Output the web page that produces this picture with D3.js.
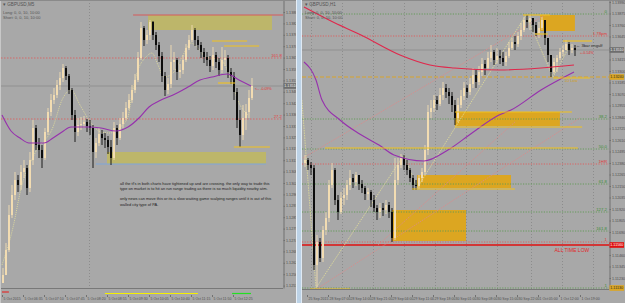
<!DOCTYPE html>
<html>
<head>
<meta charset="utf-8">
<script src="https://cdn.jsdelivr.net/npm/d3@7"></script>
<style>
  body { margin: 0; background: #a8a8a8; }
  svg { display: block; font-family: "Liberation Sans", Arial, sans-serif; }
</style>
</head>
<body>
<svg id="chart" width="625" height="303"></svg>
<script>
// ---------- left chart (M5) ----------
const leftTitle = ["\u25BE GBPUSD,M5", "Long: 0, 0, 10, 10:00", "Short: 0, 0, 10, 10:00"];
const leftFirstOpen = 1.12525;
const leftClose = [1.12565,1.12690,1.12865,1.12965,1.13040,1.13015,1.13080,1.13100,1.13000,1.13140,
  1.13300,1.13215,1.13190,1.13150,1.13280,1.13380,1.13440,1.13465,1.13515,1.13550,
  1.13600,1.13560,1.13490,1.13365,1.13280,1.13315,1.13320,1.13330,1.13310,1.13300,
  1.13180,1.13225,1.13270,1.13250,1.13240,1.13205,1.13150,1.13300,1.13250,1.13320,
  1.13350,1.13400,1.13440,1.13490,1.13540,1.13650,1.13800,1.13740,1.13765,1.13830,
  1.13765,1.13715,1.13660,1.13560,1.13490,1.13520,1.13630,1.13640,1.13580,1.13590,
  1.13640,1.13700,1.13740,1.13790,1.13740,1.13715,1.13680,1.13655,1.13640,1.13610,
  1.13665,1.13630,1.13590,1.13640,1.13650,1.13580,1.13560,1.13480,1.13340,1.13265,
  1.13350,1.13380,1.13450,1.13510];
const leftHigh = [1.12600,1.12725,1.12915,1.13015,1.13080,1.13065,1.13115,1.13140,1.13115,1.13180,
  1.13340,1.13315,1.13250,1.13215,1.13300,1.13400,1.13470,1.13500,1.13540,1.13580,
  1.13620,1.13610,1.13570,1.13500,1.13390,1.13350,1.13355,1.13360,1.13345,1.13340,
  1.13315,1.13250,1.13300,1.13290,1.13275,1.13260,1.13240,1.13330,1.13315,1.13350,
  1.13380,1.13430,1.13470,1.13515,1.13570,1.13680,1.13830,1.13810,1.13790,1.13840,
  1.13835,1.13780,1.13730,1.13680,1.13580,1.13550,1.13715,1.13680,1.13650,1.13620,
  1.13665,1.13720,1.13765,1.13815,1.13800,1.13760,1.13730,1.13700,1.13680,1.13660,
  1.13705,1.13680,1.13650,1.13705,1.13690,1.13665,1.13600,1.13580,1.13500,1.13390,
  1.13415,1.13420,1.13490,1.13550];
const leftLow = [1.12525,1.12565,1.12680,1.12850,1.12940,1.12980,1.12990,1.13050,1.12965,1.12980,
  1.13115,1.13190,1.13150,1.13100,1.13140,1.13265,1.13360,1.13420,1.13450,1.13490,
  1.13530,1.13540,1.13470,1.13340,1.13230,1.13260,1.13290,1.13300,1.13280,1.13265,
  1.13100,1.13150,1.13210,1.13215,1.13200,1.13170,1.13115,1.13140,1.13215,1.13240,
  1.13300,1.13340,1.13390,1.13425,1.13475,1.13530,1.13640,1.13710,1.13720,1.13740,
  1.13740,1.13690,1.13630,1.13530,1.13460,1.13470,1.13500,1.13590,1.13540,1.13550,
  1.13570,1.13630,1.13690,1.13730,1.13710,1.13690,1.13650,1.13625,1.13610,1.13580,
  1.13590,1.13600,1.13560,1.13575,1.13610,1.13550,1.13520,1.13440,1.13300,1.13205,
  1.13240,1.13290,1.13350,1.13440];
// slow MA (purple) and fast MA (pale dotted), sampled at bar index
const leftSlowIdx = [0,3,6,9,14,17,20,23,29,33,38,42,46,49,53,57,62,66,70,75,79,83];
const leftSlowVal = [1.13365,1.13285,1.13250,1.13225,1.13225,1.13250,1.13280,1.13305,1.13305,1.13300,1.13285,
  1.13305,1.13355,1.13405,1.13440,1.13465,1.13505,1.13540,1.13555,1.13570,1.13540,1.13510];
const leftFastIdx = [0,4,6,11,17,20,23,26,29,33,36,39,42,43,45,48,50,52,54,57,60,63,65,68,73,76,79,82];
const leftFastVal = [1.12615,1.12825,1.12975,1.13175,1.13305,1.13440,1.13490,1.13415,1.13340,1.13280,
  1.13275,1.13300,1.13355,1.13440,1.13575,1.13655,1.13675,1.13615,1.13555,1.13575,
  1.13655,1.13725,1.13705,1.13655,1.13640,1.13555,1.13425,1.13365];
const leftFibLevels = [1.13650, 1.13345];
const leftFibLabels = ["161.8", "27.2"];
const leftTopLine = [43.7, 1.13865];
const leftZones = [[48.7, 90, 1.13865, 1.13790], [35, 88, 1.13180, 1.13120]];
const leftBlueLine = [31.3, 88, 1.13120];
const leftMarks = [[70, 81.7, 1.13735], [74, 85.7, 1.13710], [72, 77.7, 1.13525], [77.3, 89.3, 1.13205]];
const leftSessions = [[0, 2.3], [34.3, 65.3], [76.7, 83]];
const leftGridIdx = [29];
const leftPriceTicks = [1.13880,1.13823,1.13766,1.13709,1.13652,1.13595,1.13538,1.13481,1.13424,1.13367,
  1.13310,1.13253,1.13196,1.13139,1.13082,1.13025,1.12968,1.12911,1.12854,1.12797,1.12740,1.12683,
  1.12626,1.12569,1.12512];
const leftTimeIdx = [0,7,14,21,28,35,42,49,56,63,70,77];
const leftTimeLabels = ["5 Oct 2015","5 Oct 06:35","5 Oct 07:10","5 Oct 07:45","5 Oct 08:20","5 Oct 08:55",
  "5 Oct 09:30","5 Oct 10:05","5 Oct 10:40","5 Oct 11:15","5 Oct 11:50","5 Oct 12:25"];
const leftNote = [
  "all the tf's in both charts have tightened up and are crossing. the only way to trade this",
  "type on market is to hit an run range trading as there is so much liquidity nearby atm.",
  "",
  "only news can move this or its a slow waiting game scalping ranges until it is out of this",
  "walled city type of PA."
];

// ---------- right chart (H1) ----------
const rightTitle = ["\u25BE GBPUSD,H1", "Long: 0, 0, 10, 10:00", "Short: 0, 0, 10, 10:00"];
const rightFirstOpen = 1.12380;
const rightClose = [1.12410,1.12360,1.12330,1.11360,1.11590,1.11430,1.11710,1.11830,1.12160,1.12310,
  1.12010,1.11890,1.12030,1.12060,1.12160,1.12230,1.12190,1.12260,1.12170,1.12130,
  1.12070,1.12090,1.12010,1.11930,1.11890,1.11930,1.11910,1.11960,1.11890,1.11630,
  1.12210,1.12360,1.12430,1.12360,1.12310,1.12230,1.12160,1.12150,1.12230,1.12290,
  1.12510,1.12890,1.12930,1.13010,1.12970,1.13060,1.13130,1.13090,1.13050,1.12960,
  1.12830,1.12960,1.13050,1.13130,1.13090,1.13170,1.13260,1.13190,1.13290,1.13370,
  1.13330,1.13430,1.13490,1.13410,1.13450,1.13430,1.13390,1.13450,1.13530,1.13590,
  1.13570,1.13650,1.13710,1.13810,1.13790,1.13830,1.13760,1.13680,1.13730,1.13810,
  1.13630,1.13460,1.13290,1.13390,1.13430,1.13490,1.13510,1.13570,1.13510,1.13530,
  1.13510];
const rightHigh = [1.12460,1.12430,1.12390,1.12360,1.11660,1.11630,1.11750,1.11890,1.12210,1.12380,
  1.12330,1.12060,1.12090,1.12130,1.12210,1.12310,1.12270,1.12290,1.12250,1.12210,
  1.12150,1.12130,1.12110,1.12060,1.11960,1.11980,1.11980,1.12010,1.11990,1.11930,
  1.12430,1.12430,1.12470,1.12460,1.12410,1.12330,1.12260,1.12210,1.12260,1.12330,
  1.12560,1.12960,1.13010,1.13060,1.13050,1.13130,1.13190,1.13170,1.13130,1.13090,
  1.13010,1.13030,1.13110,1.13190,1.13160,1.13230,1.13330,1.13310,1.13350,1.13430,
  1.13410,1.13490,1.13560,1.13510,1.13530,1.13510,1.13490,1.13490,1.13590,1.13630,
  1.13650,1.13690,1.13780,1.13840,1.13860,1.13860,1.13830,1.13790,1.13790,1.13840,
  1.13790,1.13630,1.13460,1.13430,1.13460,1.13530,1.13560,1.13610,1.13590,1.13570,
  1.13560];
const rightLow = [1.12340,1.12310,1.12260,1.11310,1.11140,1.11390,1.11390,1.11660,1.11790,1.12130,
  1.11960,1.11810,1.11870,1.11960,1.12010,1.12110,1.12130,1.12150,1.12110,1.12080,
  1.12010,1.12010,1.11940,1.11890,1.11810,1.11830,1.11850,1.11870,1.11830,1.11590,
  1.11610,1.12160,1.12330,1.12310,1.12260,1.12190,1.12110,1.12110,1.12120,1.12190,
  1.12260,1.12460,1.12830,1.12890,1.12910,1.12950,1.13010,1.13030,1.12970,1.12890,
  1.12760,1.12790,1.12930,1.13010,1.13030,1.13060,1.13130,1.13130,1.13160,1.13250,
  1.13260,1.13310,1.13390,1.13360,1.13370,1.13370,1.13350,1.13350,1.13430,1.13510,
  1.13510,1.13540,1.13610,1.13690,1.13730,1.13710,1.13690,1.13650,1.13630,1.13710,
  1.13560,1.13390,1.13240,1.13270,1.13290,1.13410,1.13450,1.13510,1.13460,1.13480,
  1.13450];
const rightRedIdx = [0,9,19,32,42,50,65,79,90];
const rightRedVal = [1.13940,1.13800,1.13660,1.13460,1.13360,1.13330,1.13310,1.13330,1.13360];
const rightPurpleIdx = [0,4,6,12,18,25,30,40,48,56,65,69,79,90];
const rightPurpleVal = [1.13390,1.13210,1.13010,1.12810,1.12680,1.12560,1.12460,1.12400,1.12510,1.12680,
  1.12860,1.12910,1.13110,1.13290];
const rightZigIdx = [-0.7, 4, 33.3, 37.7, 74, 83, 88.7];
const rightZigVal = [1.13010, 1.11130, 1.12460, 1.12130, 1.13860, 1.13240, 1.13560];
const rightTrends = [[3.7, 1.11110, 92, 1.12830], [24.7, 1.11560, 70.3, 1.12790], [-0.3, 1.12430, 80.3, 1.13860]];
const rightGreenLevels = [1.13870, 1.12820, 1.12520, 1.12170, 1.11890, 1.11700, 1.11130];
const rightGreenLabels = ["0", "38.2", "50.0", "61.8", "127.2", "161.8", "1"];
const rightRedLevels = [1.13650, 1.12370, 1.11590];
const rightRedLabels = ["1.78pm", "1HR", "1"];
const rightAllTimeLow = 1.11560;
const rightDayLow = 1.13240;
const rightWeekLow = 1.11130;
const rightZones = [[78.7, 90.3, 1.13860, 1.13700], [50.3, 85.3, 1.12890, 1.12750],
  [37.7, 69, 1.12260, 1.12130], [29.3, 54, 1.11910, 1.11600]];
const rightMarks = [[73, 82, 1.13860], [77, 81.3, 1.13670], [86.3, 96, 1.13600], [83, 95.3, 1.13230],
  [50.3, 89.3, 1.12890], [50.3, 92.7, 1.12740], [7, 91.3, 1.12530], [36, 70.3, 1.12120], [2, 15.3, 1.11120]];
const rightGridIdx = [2.3, 12.7, 23, 33.3, 43.7, 54, 64.3, 75.7, 86, 96.3];
const rightPriceTicks = [1.13990,1.13875,1.13760,1.13645,1.13530,1.13415,1.13300,1.13185,1.13070,1.12955,
  1.12840,1.12725,1.12610,1.12495,1.12380,1.12265,1.12150,1.12035,1.11920,1.11805,1.11690,1.11575,
  1.11460,1.11345,1.11230];
const rightTimeIdx = [1,8,15,22,29,36,43,50,57,64,71,78,85,92];
const rightTimeLabels = ["25 Sep 2015","28 Sep 07:00","28 Sep 14:00","28 Sep 21:00","29 Sep 04:00",
  "29 Sep 11:00","29 Sep 18:00","30 Sep 01:00","30 Sep 08:00","30 Sep 15:00","30 Sep 22:00",
  "1 Oct 05:00","1 Oct 12:00","1 Oct 19:00"];

// ---------- drawing ----------
const BULL = "#f2dcb2", BEAR = "#0c0c0c";
const fmt = d3.format(".5f");
const svg = d3.select("#chart");
svg.append("rect").attr("width", 625).attr("height", 303).attr("fill", "#a8a8a8");

function hline(g, x, y, i0, i1, p, color, w, dash) {
  g.append("line").attr("x1", x(i0)).attr("x2", x(i1)).attr("y1", y(p)).attr("y2", y(p))
    .attr("stroke", color).attr("stroke-width", w).attr("stroke-dasharray", dash || null);
}

function zone(g, x, y, z, color) {
  g.append("rect").attr("x", x(z[0])).attr("width", x(z[1]) - x(z[0]))
    .attr("y", y(z[2])).attr("height", y(z[3]) - y(z[2])).attr("fill", color);
}

function curve(g, x, y, idx, vals, color, w, dash, kind) {
  g.append("path").datum(idx.map((d, k) => [d, vals[k]]))
    .attr("d", d3.line().x(d => x(d[0])).y(d => y(d[1])).curve(kind || d3.curveMonotoneX))
    .attr("fill", "none").attr("stroke", color).attr("stroke-width", w)
    .attr("stroke-dasharray", dash || null);
}

function candles(g, x, y, close, high, low, firstOpen) {
  const bars = close.map((c, i) => {
    const o = i ? close[i - 1] : firstOpen;
    return { i, o, c, h: Math.max(high[i], o, c), l: Math.min(low[i], o, c) };
  });
  const col = d => d.c >= d.o ? BULL : BEAR;
  g.selectAll("line.wick").data(bars).join("line").attr("class", "wick")
    .attr("x1", d => x(d.i) + 1).attr("x2", d => x(d.i) + 1)
    .attr("y1", d => y(d.h)).attr("y2", d => y(d.l))
    .attr("stroke", col).attr("stroke-width", 0.9);
  g.selectAll("rect.body").data(bars).join("rect").attr("class", "body")
    .attr("x", d => x(d.i)).attr("width", 2)
    .attr("y", d => y(Math.max(d.o, d.c)))
    .attr("height", d => Math.max(1, Math.abs(y(d.o) - y(d.c))))
    .attr("fill", col);
}

// price axis; labels hidden where a highlighted box sits
function priceAxis(g, y, xPos, ticks, boxed) {
  const a = g.append("g").attr("transform", `translate(${xPos},0)`)
    .call(d3.axisRight(y).tickValues(ticks).tickFormat(fmt).tickSize(1.5).tickSizeOuter(0).tickPadding(1));
  a.select(".domain").attr("stroke", "#707070");
  a.selectAll(".tick line").attr("stroke", "#707070");
  a.selectAll("text").attr("font-size", 3.7).attr("fill", "#4e4e4e")
    .attr("opacity", d => boxed.some(p => Math.abs(y(p) - y(d)) < 5.5) ? 0 : 1);
}

function timeAxis(g, x, yPos, idx, labels) {
  const a = g.append("g").attr("transform", `translate(0,${yPos})`)
    .call(d3.axisBottom(x).tickValues(idx).tickFormat((d, k) => labels[k]).tickSize(2).tickSizeOuter(0).tickPadding(1));
  a.select(".domain").remove();
  a.selectAll(".tick line").attr("stroke", "#707070");
  a.selectAll("text").attr("font-size", 3.5).attr("fill", "#4e4e4e").attr("text-anchor", "start").attr("dx", 1);
}

function axisBox(g, xPos, yPos, text, fill, textColor) {
  g.append("rect").attr("x", xPos + 0.5).attr("y", yPos - 2.8).attr("width", 14.5).attr("height", 5.6).attr("fill", fill);
  g.append("text").attr("x", xPos + 1.3).attr("y", yPos + 1.4).attr("font-size", 3.7)
    .attr("fill", textColor).text(text);
}

function titles(g, x0, lines) {
  g.selectAll("text.ttl").data(lines).join("text").attr("class", "ttl")
    .attr("x", x0).attr("y", (d, k) => k ? 9.5 + 4.8 * k : 5.5)
    .attr("font-size", (d, k) => k ? 4 : 4.6).attr("fill", "#545454").text(d => d);
}

// ===== left panel =====
{
  const x = d3.scaleLinear().domain([0, 83]).range([2, 251]);
  const y = d3.scaleLinear().domain([1.12500, 1.13940]).range([288, 0]);
  const iL = x.invert(1), iR = x.invert(283);
  const last = leftClose[leftClose.length - 1];
  const g = svg.append("g");
  g.append("clipPath").attr("id", "clipL").append("rect").attr("x", 1).attr("y", 0).attr("width", 282).attr("height", 288);
  const c = g.append("g").attr("clip-path", "url(#clipL)");

  leftGridIdx.forEach(i => c.append("line").attr("x1", x(i) + 0.5).attr("x2", x(i) + 0.5)
    .attr("y1", 0).attr("y2", 288).attr("stroke", "#8c8c8c").attr("stroke-dasharray", "1,2"));

  leftZones.forEach(z => zone(c, x, y, z, "#bdb66a"));
  hline(c, x, y, leftTopLine[0], iR, leftTopLine[1], "#d65a5a", 1);
  hline(c, x, y, leftBlueLine[0], leftBlueLine[1], leftBlueLine[2], "#7ea6d8", 1);
  leftFibLevels.forEach((p, k) => {
    hline(c, x, y, iL, iR, p, "#e05858", 0.8, "1.5,1.5");
    c.append("text").attr("x", x(iR) - 1).attr("y", y(p) - 1).attr("text-anchor", "end")
      .attr("font-size", 4.3).attr("fill", "#e04040").text(leftFibLabels[k]);
  });
  hline(c, x, y, iL, iR, last, "#8a8a8a", 0.8);

  curve(c, x, y, leftFastIdx, leftFastVal, "#e4e09a", 0.8, "1,1");
  candles(c, x, y, leftClose, leftHigh, leftLow, leftFirstOpen);
  curve(c, x, y, leftSlowIdx, leftSlowVal, "#9630ad", 1.1);
  leftMarks.forEach(m => hline(c, x, y, m[0], m[1], m[2], "#f2c21c", 1.1));

  c.append("text").attr("x", x(84.3)).attr("y", y(last) + 3.5).attr("font-size", 3.6)
    .attr("fill", "#e03030").text("<-- -0.09%");

  c.selectAll("text.note").data(leftNote).join("text").attr("class", "note")
    .attr("x", 120).attr("y", (d, k) => 184.5 + 5.3 * k)
    .attr("font-size", 3.95).attr("fill", "#1e1e1e").text(d => d);

  titles(g, 3, leftTitle);

  // chart frame and bottom strip
  g.append("line").attr("x1", 1).attr("x2", 283).attr("y1", 288.5).attr("y2", 288.5).attr("stroke", "#787878");
  const sessCol = ["#e03030", "#f5f000", "#22e022"];
  leftSessions.forEach((s, k) => g.append("line").attr("x1", x(s[0])).attr("x2", x(s[1]))
    .attr("y1", k ? 293.5 : 292).attr("y2", k ? 293.5 : 292).attr("stroke", sessCol[k]).attr("stroke-width", 1.2));
  priceAxis(g, y, 283.5, leftPriceTicks, [last]);
  axisBox(g, 283, y(last), fmt(last), "#6e6e6e", "#f0f0f0");
  timeAxis(g, x, 295, leftTimeIdx, leftTimeLabels);
  g.append("line").attr("x1", 0.5).attr("x2", 0.5).attr("y1", 0).attr("y2", 303).attr("stroke", "#c8c8c8");
  g.append("line").attr("x1", 0).attr("x2", 296).attr("y1", 0.5).attr("y2", 0.5).attr("stroke", "#8a8a8a");
}

// divider between the two windows
svg.append("rect").attr("x", 296).attr("y", 0).attr("width", 6).attr("height", 303).attr("fill", "#bcd2e6");
svg.append("line").attr("x1", 296.5).attr("x2", 296.5).attr("y1", 0).attr("y2", 303).attr("stroke", "#e6eef6");
svg.append("line").attr("x1", 301.5).attr("x2", 301.5).attr("y1", 0).attr("y2", 303).attr("stroke", "#dfe9f3");

// ===== right panel =====
{
  const x = d3.scaleLinear().domain([0, 90]).range([304, 574]);
  const y = d3.scaleLinear().domain([1.11120, 1.14010]).range([289, 0]);
  const iL = x.invert(302), iR = x.invert(609);
  const last = rightClose[rightClose.length - 1];
  const g = svg.append("g");
  g.append("clipPath").attr("id", "clipR").append("rect").attr("x", 302).attr("y", 0).attr("width", 307).attr("height", 290);
  const c = g.append("g").attr("clip-path", "url(#clipR)");

  rightGridIdx.forEach(i => c.append("line").attr("x1", Math.round(x(i)) + 0.5).attr("x2", Math.round(x(i)) + 0.5)
    .attr("y1", 0).attr("y2", 289).attr("stroke", "#8c8c8c").attr("stroke-dasharray", "1,2"));

  rightZones.forEach(z => zone(c, x, y, z, "#dca621"));

  rightGreenLevels.forEach((p, k) => {
    hline(c, x, y, iL, iR, p, "#5e9a52", 0.9, "1.2,1.4");
    c.append("text").attr("x", x(iR) - 2).attr("y", y(p) - 1).attr("text-anchor", "end")
      .attr("font-size", 4.3).attr("fill", "#3f8f3a").text(rightGreenLabels[k]);
  });
  rightRedLevels.forEach((p, k) => {
    hline(c, x, y, iL, iR, p, "#e05a5a", 0.9, "1.2,1.4");
    c.append("text").attr("x", x(iR) - 2).attr("y", y(p) - 1.5).attr("text-anchor", "end")
      .attr("font-size", 4.3).attr("fill", "#e03838").text(rightRedLabels[k]);
  });
  hline(c, x, y, iL, iR, rightDayLow, "#d9a42a", 1, "4,2");
  hline(c, x, y, iL, iR, rightAllTimeLow, "#e01010", 1.3);
  c.append("text").attr("x", x(89.3)).attr("y", y(rightAllTimeLow) + 6.5).attr("text-anchor", "middle")
    .attr("font-size", 5).attr("fill", "#e02828").text("ALL TIME LOW");
  c.append("text").attr("x", x(88.7)).attr("y", y(rightWeekLow) + 4.5).attr("text-anchor", "middle")
    .attr("font-size", 4.3).attr("fill", "#d49a1a").text("1W Low");
  c.append("text").attr("x", x(89)).attr("y", y(rightDayLow) + 4.5).attr("text-anchor", "middle")
    .attr("font-size", 3.8).attr("fill", "#d4a020").text("1D Low");
  hline(c, x, y, iL, iR, last, "#8a8a8a", 0.8);

  rightTrends.forEach(t => c.append("line").attr("x1", x(t[0])).attr("y1", y(t[1]))
    .attr("x2", x(t[2])).attr("y2", y(t[3])).attr("stroke", "#dc8a8a").attr("stroke-width", 0.8)
    .attr("stroke-dasharray", "1.5,1"));
  curve(c, x, y, rightZigIdx, rightZigVal, "#e2de98", 0.8, "1.5,1", d3.curveLinear);

  candles(c, x, y, rightClose, rightHigh, rightLow, rightFirstOpen);
  curve(c, x, y, rightRedIdx, rightRedVal, "#e0284c", 1.1);
  curve(c, x, y, rightPurpleIdx, rightPurpleVal, "#9630ad", 1.1);
  rightMarks.forEach(m => hline(c, x, y, m[0], m[1], m[2], "#f2c21c", 1.1));

  c.append("text").attr("x", x(90.7)).attr("y", y(1.13540)).attr("font-size", 4.2)
    .attr("fill", "#262626").text("\u2190 3bar engulf");
  c.append("text").attr("x", x(92)).attr("y", y(1.13470)).attr("font-size", 3.6)
    .attr("fill", "#e03030").text("+-0.14%");

  titles(g, 305, rightTitle);

  g.append("line").attr("x1", 302).attr("x2", 609).attr("y1", 289.5).attr("y2", 289.5).attr("stroke", "#787878");
  priceAxis(g, y, 609.5, rightPriceTicks, [last, rightDayLow, rightAllTimeLow, rightWeekLow]);
  axisBox(g, 609, y(last), fmt(last), "#6e6e6e", "#f0f0f0");
  axisBox(g, 609, y(rightDayLow), fmt(rightDayLow), "#dca621", "#2a2a2a");
  axisBox(g, 609, y(rightAllTimeLow), fmt(rightAllTimeLow), "#e01010", "#ffffff");
  axisBox(g, 609, y(rightWeekLow), fmt(rightWeekLow), "#dca621", "#2a2a2a");
  timeAxis(g, x, 295, rightTimeIdx, rightTimeLabels);
  g.append("line").attr("x1", 302).attr("x2", 625).attr("y1", 0.5).attr("y2", 0.5).attr("stroke", "#8a8a8a");
}
</script>
</body>
</html>
